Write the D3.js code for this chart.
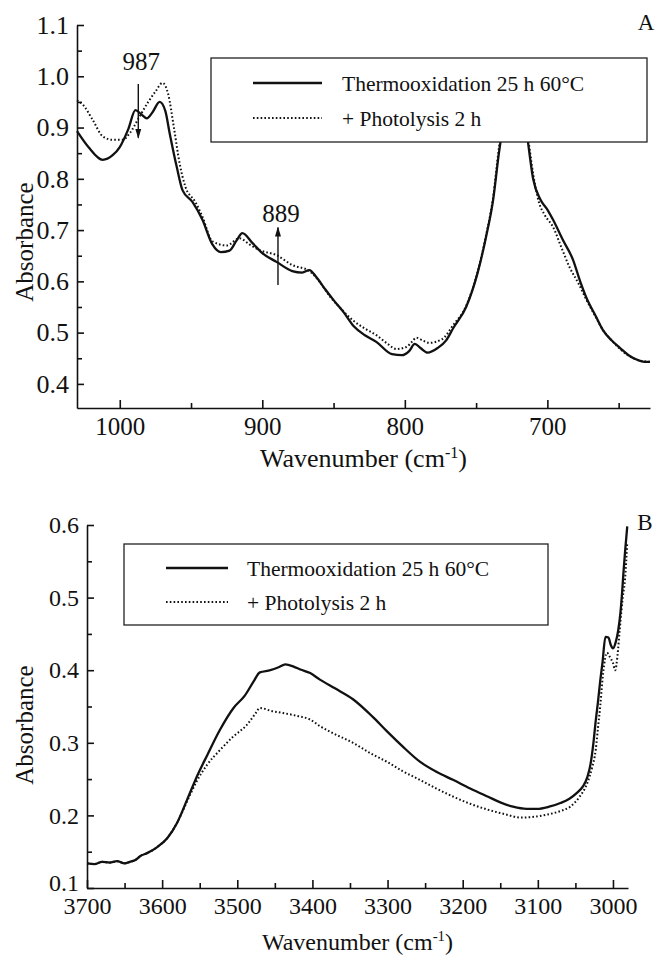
<!DOCTYPE html>
<html>
<head>
<meta charset="utf-8">
<script src="https://cdn.jsdelivr.net/npm/d3@7"></script>
<style>
  body { margin: 0; background: #fff; }
  svg { display: block; }
</style>
</head>
<body>
<script>
// series labels
const seriesNames = ["Thermooxidation 25 h 60°C", "+ Photolysis 2 h"];

// panel A: 1030-628 cm-1, [wavenumber, absorbance]
const thermoA = [
  [1030, 0.893], [1022, 0.862], [1012, 0.837], [1005, 0.846], [1000, 0.862], [994, 0.897],
  [989, 0.934], [985, 0.926], [981, 0.918], [977, 0.93], [972, 0.95], [968, 0.932],
  [965, 0.889], [960, 0.823], [956, 0.778], [949, 0.755], [942, 0.72], [935, 0.672],
  [929, 0.657], [923, 0.66], [918, 0.68], [914, 0.694], [907, 0.675], [900, 0.655],
  [890, 0.638], [879, 0.62], [872, 0.617], [867, 0.622], [862, 0.608], [856, 0.585],
  [849, 0.56], [843, 0.54], [836, 0.513], [828, 0.495], [820, 0.482], [809, 0.458],
  [802, 0.456], [797, 0.464], [793, 0.478], [789, 0.47], [784, 0.461], [777, 0.47],
  [771, 0.485], [766, 0.509], [757, 0.55], [749, 0.616], [743, 0.687], [738, 0.76],
  [734, 0.85], [730, 0.92], [726, 0.96], [722, 0.975], [718, 0.96], [714, 0.88],
  [710, 0.8], [705, 0.76], [700, 0.74], [696, 0.72], [689, 0.68], [682, 0.642],
  [677, 0.6], [672, 0.564], [666, 0.532], [661, 0.505], [655, 0.485], [649, 0.47],
  [643, 0.456], [637, 0.447], [632, 0.443], [628, 0.443]
];
const photoA = [
  [1030, 0.953], [1026, 0.945], [1019, 0.915], [1012, 0.883], [1005, 0.876], [998, 0.876],
  [993, 0.889], [986, 0.922], [980, 0.95], [975, 0.97], [970, 0.987], [966, 0.965],
  [962, 0.9], [958, 0.83], [954, 0.785], [947, 0.755], [942, 0.726], [935, 0.678],
  [925, 0.67], [916, 0.684], [909, 0.672], [902, 0.661], [890, 0.651], [879, 0.632],
  [867, 0.62], [860, 0.6], [853, 0.572], [846, 0.55], [836, 0.523], [828, 0.508],
  [820, 0.495], [812, 0.478], [806, 0.468], [799, 0.472], [795, 0.482], [792, 0.49],
  [787, 0.484], [783, 0.48], [774, 0.487], [766, 0.515], [757, 0.552], [749, 0.618],
  [743, 0.69], [738, 0.765], [734, 0.86], [730, 0.93], [726, 0.97], [722, 0.98],
  [718, 0.965], [714, 0.89], [710, 0.81], [706, 0.755], [702, 0.73], [696, 0.706],
  [690, 0.665], [684.5, 0.628], [678, 0.595], [672.6, 0.564], [666, 0.53], [661, 0.505],
  [655, 0.485], [649, 0.468], [643, 0.455], [637, 0.447], [628, 0.443]
];

// panel A arrows
const arrowLabels = ["987", "889"];
const arrowWaves = [987, 889];
const arrowFrom = [0.985, 0.593];
const arrowTo = [0.88, 0.705];

// panel B: 3700-2980 cm-1
const thermoB = [
  [3700, 0.134], [3690, 0.133], [3680, 0.136], [3670, 0.135], [3660, 0.137], [3650, 0.134],
  [3643, 0.136], [3635, 0.139], [3629, 0.144], [3620, 0.148], [3607, 0.156], [3593, 0.169],
  [3580, 0.19], [3567, 0.221], [3554, 0.253], [3540, 0.283], [3523, 0.318], [3505, 0.348],
  [3490, 0.365], [3478, 0.385], [3470, 0.397], [3456, 0.4], [3445, 0.404], [3436, 0.408],
  [3425, 0.405], [3416, 0.401], [3403, 0.396], [3390, 0.387], [3370, 0.375], [3346, 0.36],
  [3320, 0.336], [3301, 0.316], [3280, 0.295], [3257, 0.274], [3235, 0.26], [3213, 0.249],
  [3190, 0.237], [3167, 0.226], [3150, 0.218], [3133, 0.212], [3115, 0.209], [3101, 0.209],
  [3085, 0.212], [3070, 0.217], [3058, 0.223], [3048, 0.231], [3040, 0.24], [3034, 0.253],
  [3030, 0.27], [3026, 0.3], [3023, 0.33], [3020, 0.356], [3017, 0.385], [3014, 0.41],
  [3010, 0.446], [3006, 0.445], [3003, 0.435], [3000, 0.43], [2996, 0.44], [2993, 0.455],
  [2990, 0.48], [2988, 0.505], [2986, 0.535], [2984, 0.562], [2981, 0.598]
];
const photoB = [
  [3700, 0.134], [3690, 0.133], [3680, 0.136], [3670, 0.135], [3660, 0.137], [3650, 0.134],
  [3643, 0.136], [3635, 0.139], [3629, 0.144], [3620, 0.148], [3607, 0.156], [3593, 0.169],
  [3580, 0.19], [3567, 0.219], [3554, 0.247], [3540, 0.27], [3523, 0.29], [3506, 0.308],
  [3487, 0.325], [3476, 0.34], [3470, 0.348], [3455, 0.344], [3439, 0.341], [3420, 0.337],
  [3403, 0.332], [3390, 0.323], [3376, 0.315], [3346, 0.3], [3320, 0.284], [3301, 0.274],
  [3280, 0.261], [3257, 0.249], [3235, 0.237], [3213, 0.226], [3190, 0.216], [3167, 0.208],
  [3145, 0.202], [3123, 0.197], [3105, 0.198], [3088, 0.201], [3070, 0.206], [3057, 0.212],
  [3045, 0.225], [3034, 0.245], [3028, 0.265], [3023, 0.29], [3020, 0.32], [3017, 0.35],
  [3013, 0.397], [3008, 0.424], [3004, 0.418], [3000, 0.41], [2997, 0.4], [2994, 0.42],
  [2991, 0.456], [2987, 0.5], [2984, 0.525], [2981, 0.576]
];

// ticks
const xMajorA = [1000, 900, 800, 700];
const xMinorA = [950, 850, 750, 650];
const yMajorA = [0.4, 0.5, 0.6, 0.7, 0.8, 0.9, 1.0, 1.1];
const yMinorA = [0.45, 0.55, 0.65, 0.75, 0.85, 0.95, 1.05];
const xMajorB = [3700, 3600, 3500, 3400, 3300, 3200, 3100, 3000];
const xMinorB = [3650, 3550, 3450, 3350, 3250, 3150, 3050];
const yMajorB = [0.1, 0.2, 0.3, 0.4, 0.5, 0.6];
const yMinorB = [0.15, 0.25, 0.35, 0.45, 0.55];

// layout
const width = 656;
const height = 960;
const serif = "'Liberation Serif'";   // a single family; lists fall back to sans here

const svg = d3.select("body").append("svg")
  .attr("width", width)
  .attr("height", height);

const panels = [
  {
    name: "A", thermo: thermoA, photo: photoA,
    xDomain: [1030, 628], xRange: [77, 650],
    yDomain: [0.353, 1.1], yRange: [408, 25],
    xMajor: xMajorA, xMinor: xMinorA, yMajor: yMajorA, yMinor: yMinorA,
    xTickFont: 25, yTickFont: 26, xTitleFont: 26,
    yTitleX: 33, yTitleY: 242, xTitleY: 467,
    nameX: 646, nameY: 30,
    legend: { x: 211, y: 58, w: 436, h: 84, lineX1: 253, lineX2: 322, row1: 83, row2: 118, textX: 342 }
  },
  {
    name: "B", thermo: thermoB, photo: photoB,
    xDomain: [3700, 2980], xRange: [87, 628],
    yDomain: [0.1, 0.6], yRange: [888, 525],
    xMajor: xMajorB, xMinor: xMinorB, yMajor: yMajorB, yMinor: yMinorB,
    xTickFont: 24, yTickFont: 24, xTitleFont: 24,
    yTitleX: 33, yTitleY: 725, xTitleY: 950,
    nameX: 645, nameY: 530,
    legend: { x: 124, y: 544, w: 424, h: 81, lineX1: 166, lineX2: 228, row1: 568, row2: 602, textX: 247 }
  }
];

panels.forEach(function(p) {
  const x = d3.scaleLinear().domain(p.xDomain).range(p.xRange);
  const y = d3.scaleLinear().domain(p.yDomain).range(p.yRange);
  const g = svg.append("g");

  // axes, ticks pointing inward
  const xAxis = g.append("g")
    .attr("transform", "translate(0," + p.yRange[0] + ")")
    .call(d3.axisBottom(x).tickValues(p.xMajor).tickSize(-8).tickSizeOuter(0).tickPadding(9).tickFormat(d3.format("d")));
  g.append("g")
    .attr("transform", "translate(0," + p.yRange[0] + ")")
    .call(d3.axisBottom(x).tickValues(p.xMinor).tickSize(-5).tickSizeOuter(0).tickFormat(""))
    .select(".domain").remove();
  const yAxis = g.append("g")
    .attr("transform", "translate(" + p.xRange[0] + ",0)")
    .call(d3.axisLeft(y).tickValues(p.yMajor).tickSize(-7).tickSizeOuter(0).tickPadding(8).tickFormat(d3.format(".1f")));
  g.append("g")
    .attr("transform", "translate(" + p.xRange[0] + ",0)")
    .call(d3.axisLeft(y).tickValues(p.yMinor).tickSize(-5).tickSizeOuter(0).tickFormat(""))
    .select(".domain").remove();

  g.selectAll("g").attr("font-family", null);
  g.selectAll(".domain, .tick line").attr("stroke", "#111").attr("stroke-width", 1.6);
  g.selectAll(".tick text")
    .style("font-family", serif)
    .attr("fill", "#111");
  xAxis.selectAll(".tick text").attr("font-size", p.xTickFont);
  yAxis.selectAll(".tick text").attr("font-size", p.yTickFont);

  // lowest y label sits just above the x labels in panel B
  if (p.name === "B") {
    yAxis.selectAll(".tick text")
      .filter(function(d) { return d === p.yMajor[0]; })
      .attr("dy", "0.12em");
  }

  // spectra
  const line = d3.line()
    .x(function(d) { return x(d[0]); })
    .y(function(d) { return y(d[1]); })
    .curve(d3.curveMonotoneX);

  g.append("path")
    .datum(p.photo)
    .attr("d", line)
    .attr("fill", "none")
    .attr("stroke", "#111")
    .attr("stroke-width", 2)
    .attr("stroke-dasharray", "1.6,2.2");

  g.append("path")
    .datum(p.thermo)
    .attr("d", line)
    .attr("fill", "none")
    .attr("stroke", "#111")
    .attr("stroke-width", 2.3);

  // legend box (opaque)
  const L = p.legend;
  g.append("rect")
    .attr("x", L.x).attr("y", L.y)
    .attr("width", L.w).attr("height", L.h)
    .attr("fill", "#fff")
    .attr("stroke", "#222")
    .attr("stroke-width", 1.3);
  g.append("line")
    .attr("x1", L.lineX1).attr("x2", L.lineX2)
    .attr("y1", L.row1).attr("y2", L.row1)
    .attr("stroke", "#111").attr("stroke-width", 2.3);
  g.append("line")
    .attr("x1", L.lineX1).attr("x2", L.lineX2)
    .attr("y1", L.row2).attr("y2", L.row2)
    .attr("stroke", "#111").attr("stroke-width", 2)
    .attr("stroke-dasharray", "1.6,2.2");
  g.selectAll(".legend-text")
    .data(seriesNames)
    .enter()
    .append("text")
    .attr("class", "legend-text")
    .attr("x", L.textX)
    .attr("y", function(d, i) { return (i === 0 ? L.row1 : L.row2) + 8; })
    .style("font-family", serif)
    .attr("font-size", 21.5)
    .attr("fill", "#111")
    .text(function(d) { return d; });

  // axis titles
  g.append("text")
    .attr("transform", "translate(" + p.yTitleX + "," + p.yTitleY + ") rotate(-90)")
    .attr("text-anchor", "middle")
    .style("font-family", serif)
    .attr("font-size", 25)
    .attr("fill", "#111")
    .text("Absorbance");

  const xt = g.append("text")
    .attr("x", (p.xRange[0] + p.xRange[1]) / 2)
    .attr("y", p.xTitleY)
    .attr("text-anchor", "middle")
    .style("font-family", serif)
    .attr("font-size", p.xTitleFont)
    .attr("fill", "#111");
  xt.append("tspan").text("Wavenumber (cm");
  xt.append("tspan").attr("dy", -9).attr("font-size", p.xTitleFont * 0.62).text("-1");
  xt.append("tspan").attr("dy", 9).text(")");

  // panel letter
  g.append("text")
    .attr("x", p.nameX)
    .attr("y", p.nameY)
    .attr("text-anchor", "middle")
    .style("font-family", serif)
    .attr("font-size", 23)
    .attr("fill", "#111")
    .text(p.name);

  // arrows on panel A
  if (p.name === "A") {
    const defs = svg.append("defs");
    defs.append("marker")
      .attr("id", "head")
      .attr("viewBox", "0 0 10 10")
      .attr("refX", 9).attr("refY", 5)
      .attr("markerWidth", 10).attr("markerHeight", 10)
      .attr("markerUnits", "userSpaceOnUse")
      .attr("orient", "auto")
      .append("path")
      .attr("d", "M0,2 L10,5 L0,8 Z")
      .attr("fill", "#111");

    arrowLabels.forEach(function(label, i) {
      const ax = x(arrowWaves[i]);
      g.append("line")
        .attr("x1", ax).attr("x2", ax)
        .attr("y1", y(arrowFrom[i])).attr("y2", y(arrowTo[i]))
        .attr("stroke", "#111")
        .attr("stroke-width", 1.4)
        .attr("marker-end", "url(#head)");
      const top = Math.min(y(arrowFrom[i]), y(arrowTo[i]));
      g.append("text")
        .attr("x", ax + 3)
        .attr("y", top - (i === 0 ? 14 : 6))
        .attr("text-anchor", "middle")
        .style("font-family", serif)
        .attr("font-size", 25)
        .attr("fill", "#111")
        .text(label);
    });
  }
});
</script>
</body>
</html>
